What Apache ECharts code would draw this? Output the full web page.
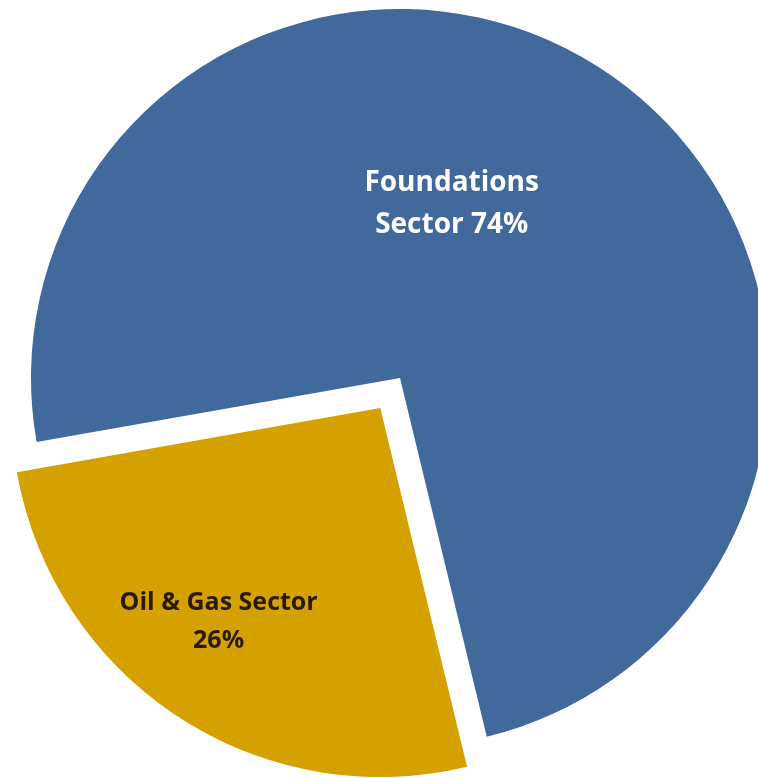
<!DOCTYPE html>
<html>
<head>
<meta charset="utf-8">
<script src="https://cdn.jsdelivr.net/npm/echarts@6/dist/echarts.min.js"></script>
<style>
  html, body { margin: 0; padding: 0; background: #fff; }
  #main { width: 758px; height: 778px; }
</style>
</head>
<body>
<div id="main"></div>
<script>
// sector shares (%)
var sectors = ['Foundations Sector', 'Oil & Gas Sector'];
var shares = [74, 26];
var labelTexts = ['Foundations\nSector 74%', 'Oil & Gas Sector\n26%'];

var colors = ['#41699c', '#d4a100'];
var labelColors = ['#ffffff', '#2a1a0c'];
var labelOffsets = [[-51, -17], [-59, 57]];
var labelSizes = [28, 25];
var labelLineHeights = [42, 38];

var chart = echarts.init(document.getElementById('main'));

var pieData = [];
for (var i = 0; i < sectors.length; i++) {
  var lbl = {
    formatter: labelTexts[i],
    color: labelColors[i],
    fontSize: labelSizes[i],
    lineHeight: labelLineHeights[i],
    offset: labelOffsets[i]
  };
  pieData.push({
    name: sectors[i],
    value: shares[i],
    selected: i === 1,
    itemStyle: { color: colors[i] },
    label: lbl,
    select: { label: lbl, itemStyle: { color: colors[i] } }
  });
}

var option = {
  backgroundColor: '#ffffff',
  animation: false,
  series: [{
    type: 'pie',
    center: [400, 378],
    radius: 369,
    startAngle: 190,
    clockwise: true,
    selectedMode: 'single',
    selectedOffset: 36,
    avoidLabelOverlap: false,
    emphasis: { disabled: true },
    itemStyle: { borderWidth: 0 },
    label: {
      show: true,
      position: 'inside',
      fontFamily: '"Open Sans", Lato, sans-serif',
      fontWeight: 'bold',
      align: 'center'
    },
    labelLine: { show: false },
    data: pieData
  }]
};

chart.setOption(option);
</script>
</body>
</html>
